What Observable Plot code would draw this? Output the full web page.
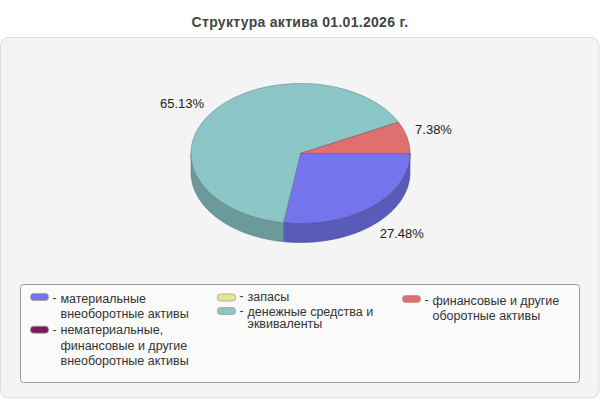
<!DOCTYPE html>
<html><head><meta charset="utf-8">
<script src="https://cdn.jsdelivr.net/npm/d3@7"></script>
<script src="https://cdn.jsdelivr.net/npm/@observablehq/plot@0.6"></script>
<style>
body{margin:0;background:#fff;font-family:"Liberation Sans",Arial,sans-serif;}
#wrap{position:relative;width:600px;height:400px;overflow:hidden;}
#title{position:absolute;left:0;top:0;width:600px;height:37px;line-height:44px;text-align:center;font-weight:bold;font-size:14px;letter-spacing:0.3px;color:#444;}
#chart{position:absolute;left:0;top:37px;}
</style></head><body>
<div id="wrap"><div id="title">Структура актива 01.01.2026 г.</div><div id="chart"></div></div>
<script>
// ---- data ----
const categories = [
  "материальные внеоборотные активы",
  "нематериальные, финансовые и другие внеоборотные активы",
  "запасы",
  "денежные средства и эквиваленты",
  "финансовые и другие оборотные активы"
];
const values = [27.48, 0, 0, 65.13, 7.38];
const valueLabels = ["27.48%", "0%", "0%", "65.13%", "7.38%"];
const legendLines = [
  ["материальные", "внеоборотные активы"],
  ["нематериальные,", "финансовые и другие", "внеоборотные активы"],
  ["запасы"],
  ["денежные средства и", "эквиваленты"],
  ["финансовые и другие", "оборотные активы"]
];
const colors = ["#7474ec", "#7a1a5c", "#e6e68c", "#8bc5c5", "#e07070"];

// ---- layout ----
const W = 600, H = 363, OFF = 37;
const cx = 300, cy = 153 - OFF, rx = 109.5, ry = 70, depth = 19;
const legendColX = [30.5, 217.5, 402.5];
const legendItems = [
  {col: 0, y: 298, lh: 15.6, sw: 297},
  {col: 0, y: 329.5, lh: 15.6, sw: 329.7},
  {col: 1, y: 296, lh: 15, sw: 297.5},
  {col: 1, y: 311, lh: 12.5, sw: 311},
  {col: 2, y: 300, lh: 15.5, sw: 299}
];

const total = d3.sum(values);
const pt = (t, dy = 0) => ({x: cx + rx * Math.cos(t), y: cy - ry * Math.sin(t) + dy});
function arcPts(a, b, dy = 0) {
  const n = Math.max(2, Math.ceil(Math.abs(a - b) / 0.01));
  return d3.range(n + 1).map(i => pt(a + (b - a) * i / n, dy));
}

let cum = 0;
const slices = values.map((v, i) => {
  const a = -2 * Math.PI * cum / total;
  cum += v;
  const b = -2 * Math.PI * cum / total;
  return {i, v, a, b, color: colors[i]};
}).filter(s => s.v > 0);

const marks = [];
// outer panel
marks.push(Plot.rect([0], {x1: 0.5, x2: 599, y1: 0.5, y2: 361, fill: "#f4f4f4", stroke: "#dcdcdc", rx: 8}));

// side walls
for (const s of slices) {
  const side = d3.color(s.color).darker(0.7).formatHex();
  const edge = d3.color(s.color).darker(1.3).formatHex();
  for (const [lo0, hi0] of [[-Math.PI, 0], [-3 * Math.PI, -2 * Math.PI]]) {
    const hi = Math.min(s.a, hi0), lo = Math.max(s.b, lo0);
    if (hi - lo <= 1e-6) continue;
    const poly = [...arcPts(hi, lo), ...arcPts(lo, hi, depth)];
    poly.push(poly[0]);
    marks.push(Plot.line(poly, {x: "x", y: "y", fill: side, stroke: edge, strokeWidth: 0.6, curve: "linear"}));
  }
}
// top faces
for (const s of slices) {
  const edge = d3.color(s.color).darker(1.1).formatHex();
  const poly = [{x: cx, y: cy}, ...arcPts(s.a, s.b), {x: cx, y: cy}];
  marks.push(Plot.line(poly, {x: "x", y: "y", fill: s.color, stroke: edge, strokeWidth: 0.6, curve: "linear"}));
}
// value labels
for (const s of slices) {
  const m = (s.a + s.b) / 2;
  const c = Math.cos(m), sn = Math.sin(m);
  const p = pt(m, sn < 0 ? depth : 0);
  const lab = {x: p.x + 8 * Math.sign(c), y: p.y + (sn > 0 ? -8 : 8), t: valueLabels[s.i]};
  marks.push(Plot.text([lab], {x: "x", y: "y", text: "t", textAnchor: c > 0 ? "start" : "end", fontSize: 13, fill: "#222"}));
}

// legend box
marks.push(Plot.rect([0], {x1: 20.5, x2: 579.5, y1: 284.5 - OFF, y2: 382.5 - OFF, fill: "#fafafa", stroke: "#9a9a9a", rx: 3}));
const sw = legendItems.map((L, i) => ({x1: legendColX[L.col], x2: legendColX[L.col] + 18, y1: L.sw - OFF - 3.5, y2: L.sw - OFF + 3.5, c: colors[i]}));
marks.push(Plot.rect(sw, {x1: "x1", x2: "x2", y1: "y1", y2: "y2", fill: d => d.c, stroke: "#a0a0a0", strokeWidth: 0.8, rx: 3}));
const dashes = legendItems.map(L => ({x: legendColX[L.col] + 21.5, y: L.y - OFF}));
marks.push(Plot.text(dashes, {x: "x", y: "y", text: () => "-", textAnchor: "start", fontSize: 12, fill: "#333"}));
const lines = legendItems.flatMap((L, i) => legendLines[i].map((t, j) => ({x: legendColX[L.col] + 29.5, y: L.y - OFF + j * L.lh, t})));
marks.push(Plot.text(lines, {x: "x", y: "y", text: "t", textAnchor: "start", fontSize: 12.5, fill: "#333"}));

const chart = Plot.plot({
  width: W, height: H, margin: 0,
  x: {domain: [0, W], range: [0, W], axis: null},
  y: {domain: [0, H], range: [0, H], axis: null},
  color: {type: "identity"},
  style: {fontFamily: '"Liberation Sans", Arial, sans-serif', background: "transparent"},
  marks
});
document.getElementById("chart").appendChild(chart);
</script>
</body></html>
